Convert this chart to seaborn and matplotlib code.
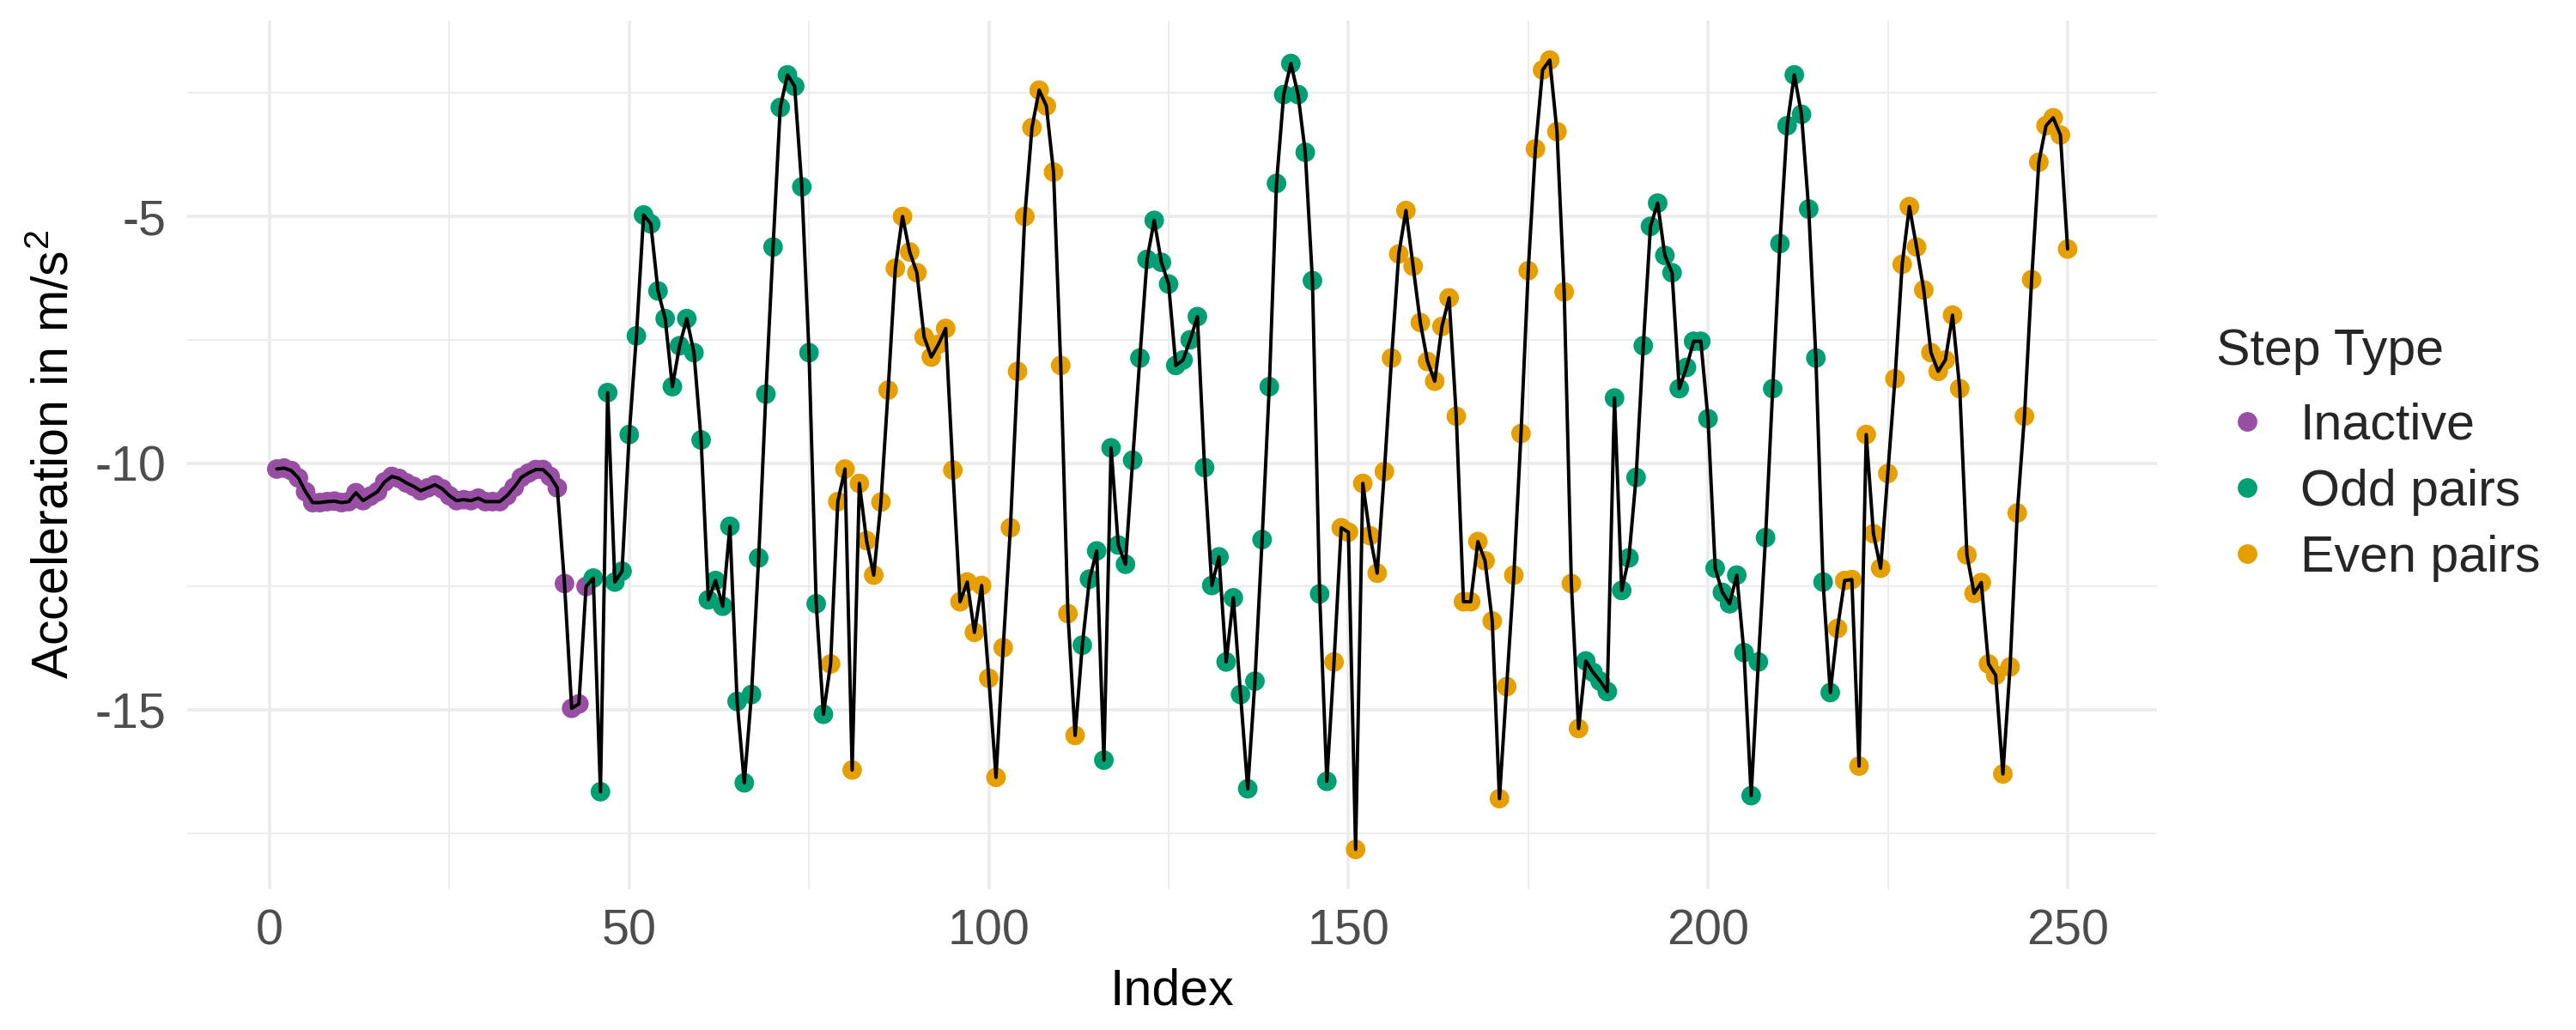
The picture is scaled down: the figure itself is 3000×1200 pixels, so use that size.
import numpy as np
import pandas as pd
import matplotlib
matplotlib.use("Agg")
import matplotlib.pyplot as plt
import seaborn as sns
from matplotlib.ticker import MultipleLocator

# ---------------- data ----------------
acceleration = [
    -10.12, -10.10, -10.15, -10.30, -10.58, -10.80, -10.80, -10.78, -10.77, -10.80,
    -10.78, -10.60, -10.76, -10.67, -10.58, -10.38, -10.27, -10.31, -10.40, -10.47,
    -10.56, -10.50, -10.44, -10.52, -10.66, -10.76, -10.74, -10.76, -10.71, -10.78,
    -10.78, -10.78, -10.66, -10.49, -10.29, -10.20, -10.13, -10.13, -10.27, -10.50,
    -12.44, -14.97, -14.88, -12.50, -12.33, -16.66, -8.57, -12.41, -12.19, -9.42,
    -7.42, -4.97, -5.15, -6.51, -7.07, -8.45, -7.62, -7.07, -7.76, -9.53,
    -12.77, -12.38, -12.90, -11.28, -14.83, -16.48, -14.69, -11.92, -8.60, -5.62,
    -2.79, -2.13, -2.36, -4.40, -7.76, -12.85, -15.09, -14.07, -10.78, -10.12,
    -16.22, -10.41, -11.57, -12.27, -10.79, -8.52, -6.05, -5.00, -5.72, -6.14,
    -7.44, -7.85, -7.59, -7.27, -10.14, -12.81, -12.41, -13.43, -12.48, -14.36,
    -16.37, -13.74, -11.31, -8.14, -5.00, -3.20, -2.44, -2.76, -4.10, -8.02,
    -13.05, -15.52, -13.69, -12.35, -11.78, -16.02, -9.69, -11.66, -12.05, -9.94,
    -7.87, -5.87, -5.08, -5.93, -6.37, -8.02, -7.91, -7.50, -7.03, -10.09,
    -12.48, -11.90, -14.03, -12.73, -14.69, -16.60, -14.42, -11.55, -8.45, -4.33,
    -2.53, -1.90, -2.53, -3.70, -6.30, -12.65, -16.45, -14.03, -11.31, -11.40,
    -17.83, -10.41, -11.47, -12.23, -10.17, -7.87, -5.76, -4.88, -6.01, -7.15,
    -7.94, -8.34, -7.23, -6.65, -9.05, -12.81, -12.81, -11.59, -11.98, -13.20,
    -16.80, -14.53, -12.27, -9.40, -6.10, -3.63, -2.03, -1.83, -3.28, -6.53,
    -12.44, -15.38, -14.01, -14.24, -14.42, -14.63, -8.68, -12.58, -11.92, -10.29,
    -7.62, -5.20, -4.73, -5.79, -6.14, -8.49, -8.06, -7.53, -7.53, -9.10,
    -12.13, -12.62, -12.85, -12.27, -13.84, -16.74, -14.03, -11.51, -8.49, -5.55,
    -3.16, -2.13, -2.93, -4.85, -7.87, -12.41, -14.65, -13.35, -12.38, -12.36,
    -16.14, -9.42, -11.43, -12.13, -10.21, -8.29, -5.97, -4.80, -5.62, -6.49,
    -7.76, -8.14, -7.91, -7.00, -8.49, -11.86, -12.64, -12.42, -14.07, -14.30,
    -16.30, -14.13, -11.01, -9.05, -6.28, -3.90, -3.16, -3.00, -3.35, -5.66,
]

# run-length encoded step type of each sample (label, number of samples)
step_runs = [
    ("Inactive", 44),
    ("Odd pairs", 33),
    ("Even pairs", 35),
    ("Odd pairs", 35),
    ("Even pairs", 35),
    ("Odd pairs", 35),
    ("Even pairs", 33),
]

step_types = ["Inactive", "Odd pairs", "Even pairs"]
step_colors = ["#984EA3", "#009E73", "#E69F00"]

x_ticks = [0, 50, 100, 150, 200, 250]
y_ticks = [-15, -10, -5]

# ---------------- frame ----------------
step_type = [lab for lab, n in step_runs for _ in range(n)]
index = list(range(1, len(acceleration) + 1))
df = pd.DataFrame({"Index": index, "Acceleration": acceleration, "Step Type": step_type})

sns.set_theme(style="white")
plt.rcParams["font.family"] = ["Liberation Sans", "DejaVu Sans"]
plt.rcParams["mathtext.fontset"] = "custom"
plt.rcParams["mathtext.rm"] = "Liberation Sans"
plt.rcParams["mathtext.it"] = "Liberation Sans"
plt.rcParams["mathtext.default"] = "regular"
plt.rcParams["axes.unicode_minus"] = False

fig = plt.figure(figsize=(10, 4), dpi=300)
ax = fig.add_axes([0.0727, 0.137, 0.7647, 0.843])

grid_col = "#EBEBEB"
ax.set_axisbelow(True)

sns.scatterplot(
    data=df, x="Index", y="Acceleration", hue="Step Type",
    hue_order=step_types, palette=step_colors,
    s=30, linewidth=0, edgecolor="none", ax=ax, zorder=2,
)
sns.lineplot(
    data=df, x="Index", y="Acceleration", color="black",
    linewidth=0.95, estimator=None, sort=False, ax=ax, zorder=3, legend=False,
)

# ggplot-like 5% expansion
xmin, xmax = min(index), max(index)
ymin, ymax = min(acceleration), max(acceleration)
xr, yr = xmax - xmin, ymax - ymin
ax.set_xlim(xmin - 0.05 * xr, xmax + 0.05 * xr)
ax.set_ylim(ymin - 0.05 * yr, ymax + 0.05 * yr)

ax.set_xticks(x_ticks)
ax.set_yticks(y_ticks)
ax.xaxis.set_minor_locator(MultipleLocator(25))
ax.yaxis.set_minor_locator(MultipleLocator(2.5))
ax.grid(which="major", color=grid_col, linewidth=0.85)
ax.grid(which="minor", color=grid_col, linewidth=0.45)
for sp in ax.spines.values():
    sp.set_visible(False)
ax.tick_params(which="both", length=0)
ax.tick_params(axis="x", labelsize=13.8, labelcolor="#4D4D4D", pad=5.5)
ax.tick_params(axis="y", labelsize=13.8, labelcolor="#4D4D4D", pad=6)

ax.set_xlabel("Index", fontsize=14.2, color="black", labelpad=3.6)
ax.set_ylabel("Acceleration in m/s$^{2}$", fontsize=14.2, color="black", labelpad=4.5)

handles, labels = ax.get_legend_handles_labels()
leg = ax.legend(
    handles=handles, labels=labels, title="Step Type",
    loc="center left", bbox_to_anchor=(1.012, 0.5),
    frameon=False, fontsize=14.2, title_fontsize=14.2,
    markerscale=1.0, handlelength=1.2, handletextpad=0.45,
    labelspacing=0.37, borderpad=0.2, alignment="left",
)
# extra room between legend title and entries
leg._legend_box.sep = 7.6

fig.savefig("out.png", dpi=300, facecolor="white")
